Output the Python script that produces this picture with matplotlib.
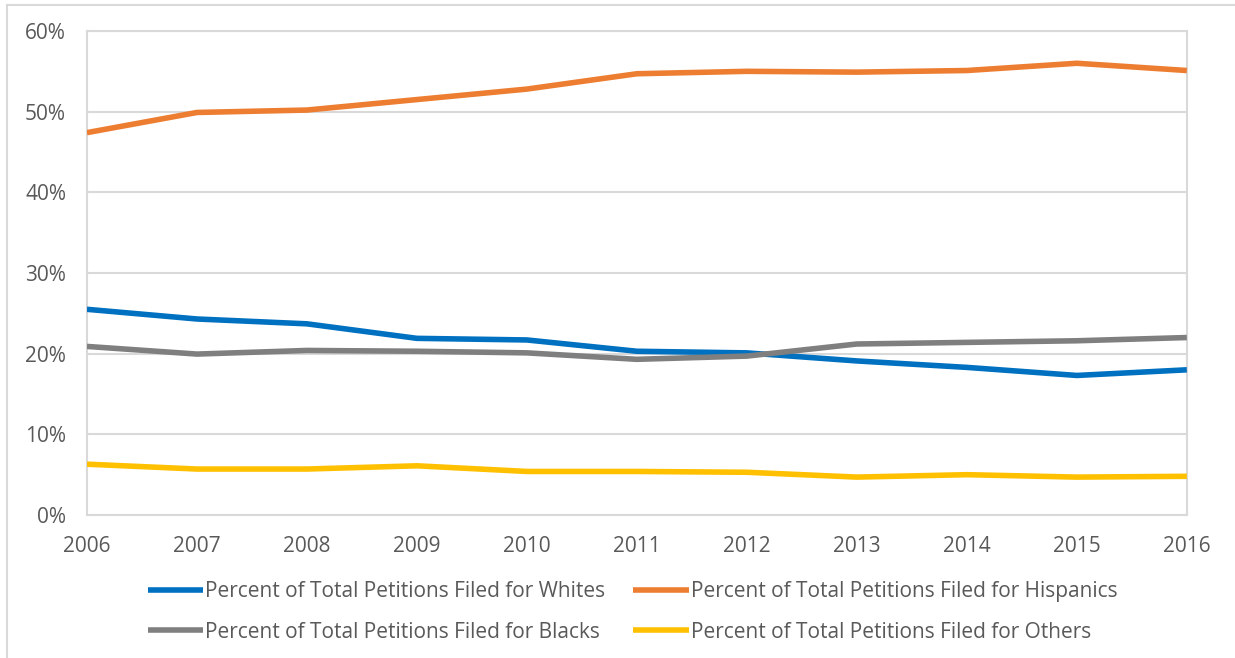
import matplotlib.pyplot as plt
from matplotlib.lines import Line2D
from matplotlib.ticker import PercentFormatter, MultipleLocator

years = [2006, 2007, 2008, 2009, 2010, 2011, 2012, 2013, 2014, 2015, 2016]
whites = [25.5, 24.3, 23.7, 21.9, 21.7, 20.3, 20.1, 19.1, 18.3, 17.3, 18.0]
hispanics = [47.4, 49.9, 50.2, 51.5, 52.8, 54.7, 55.0, 54.9, 55.1, 56.0, 55.1]
blacks = [20.9, 19.95, 20.4, 20.3, 20.1, 19.3, 19.7, 21.2, 21.4, 21.6, 22.0]
others = [6.3, 5.7, 5.7, 6.1, 5.4, 5.4, 5.3, 4.7, 5.0, 4.7, 4.8]

labels = ["Percent of Total Petitions Filed for Whites",
          "Percent of Total Petitions Filed for Hispanics",
          "Percent of Total Petitions Filed for Blacks",
          "Percent of Total Petitions Filed for Others"]
colors = ["#0070C0", "#ED7D31", "#7F7F7F", "#FFC000"]

plt.rcParams['font.family'] = ['Open Sans', 'DejaVu Sans']

fig = plt.figure(figsize=(12.35, 6.58), dpi=100)
ax = fig.add_axes([0.0704, 0.2173, 0.8906, 0.7356])

series = [whites, hispanics, blacks, others]
for vals, c, lab in zip(series, colors, labels):
	ax.plot(years, vals, color=c, linewidth=4, label=lab, solid_capstyle='butt', zorder=3)

ax.set_xlim(2006, 2016)
ax.set_ylim(0, 60)
ax.yaxis.set_major_locator(MultipleLocator(10))
ax.yaxis.set_major_formatter(PercentFormatter(decimals=0))
ax.set_xticks(years)
ax.set_xticks([2008, 2010, 2012, 2014], minor=True)

ax.grid(axis='y', which='major', color='#D9D9D9', linewidth=1.5)
ax.grid(axis='x', which='minor', color='#D9D9D9', linewidth=1.5)
for s in ['left', 'right', 'top', 'bottom']:
	ax.spines[s].set_color('#D9D9D9')
	ax.spines[s].set_linewidth(1.5)
ax.tick_params(axis='both', which='both', length=0, labelsize=15, labelcolor='#595959')
ax.tick_params(axis='x', pad=15)
ax.tick_params(axis='y', pad=15)

# legend, order: Whites, Hispanics / Blacks, Others
handles, labs = ax.get_legend_handles_labels()
order = [0, 2, 1, 3]
leg = fig.legend([handles[i] for i in order], [labs[i] for i in order],
	loc='upper left', bbox_to_anchor=(0.113, 0.13), ncol=2, frameon=False,
	fontsize=15, handlelength=2.65, handletextpad=0.1, columnspacing=1.35,
	labelspacing=0.95, borderaxespad=0)
for t in leg.get_texts():
	t.set_color('#595959')

# chart outer frame
fig.add_artist(Line2D([0.0057, 0.9995], [0.9924, 0.9924], color='#D9D9D9', linewidth=1.5))
fig.add_artist(Line2D([0.0057, 0.0057], [0.0, 0.9924], color='#D9D9D9', linewidth=1.5))

plt.savefig("out.png", dpi=100)
